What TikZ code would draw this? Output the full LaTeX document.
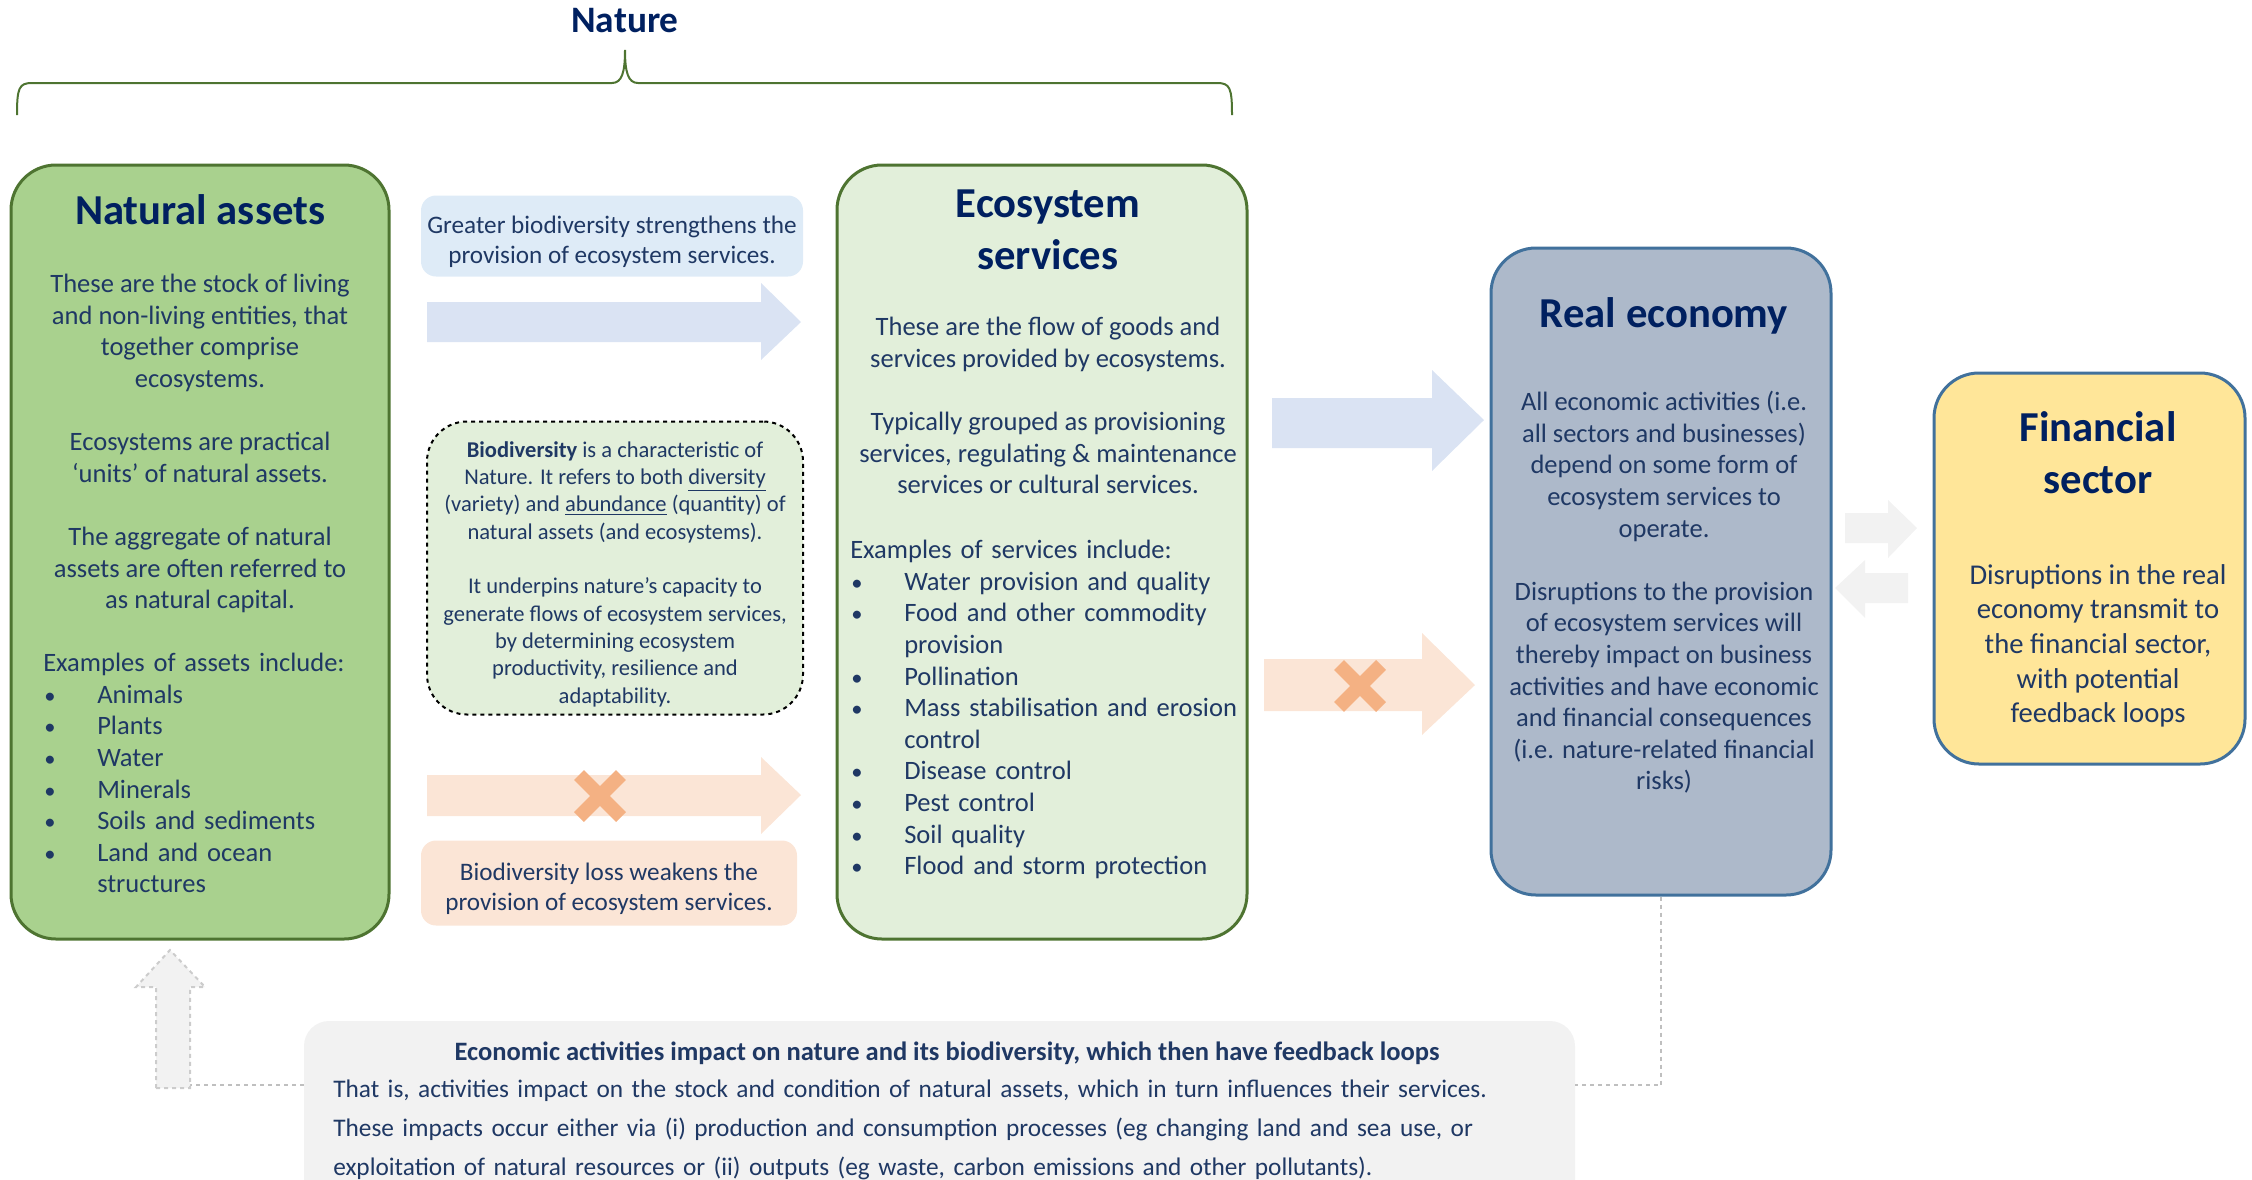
\documentclass[tikz,border=0pt]{standalone}
\usepackage{fontspec}
\setmainfont{Carlito}
\usepackage{tikz}

\newlength{\unitpx}
\setlength{\unitpx}{0.75pt}

\definecolor{navy}{HTML}{002060}
\definecolor{inknavy}{HTML}{1F3864}
\definecolor{leafgreen}{HTML}{A9D18E}
\definecolor{palegreen}{HTML}{E2EFDA}
\definecolor{darkgreen}{HTML}{4E7431}
\definecolor{skyblue}{HTML}{DEEBF7}
\definecolor{arrowblue}{HTML}{DAE3F3}
\definecolor{peach}{HTML}{FBE5D6}
\definecolor{crossorange}{HTML}{F4B183}
\definecolor{slate}{HTML}{ADB9CA}
\definecolor{steel}{HTML}{41719C}
\definecolor{butter}{HTML}{FFE699}
\definecolor{mist}{HTML}{F2F2F2}
\definecolor{dashgrey}{HTML}{BFBFBF}

% list entries with a bullet and a hanging indent
\newcommand{\listitem}[1]{\par\noindent\hangindent=54\unitpx\hangafter=1%
  \makebox[54\unitpx][l]{\hspace*{1\unitpx}\scalebox{0.85}{\textbullet}}#1}

\tikzset{
  bigbox/.style={rounded corners=45\unitpx, line width=3\unitpx},
  assetsbox/.style={bigbox, draw=darkgreen, fill=leafgreen},
  servicesbox/.style={bigbox, draw=darkgreen, fill=palegreen},
  economybox/.style={bigbox, draw=steel, fill=slate},
  financebox/.style={bigbox, draw=steel, fill=butter},
  heading/.style={font=\bfseries\fontsize{32}{39}\selectfont, text=navy, align=center, inner sep=0},
  bodytext/.style={font=\fontsize{19.9}{23.7}\selectfont, text=inknavy, align=center, inner sep=0},
  listtext/.style={bodytext, align=left},
  notebox/.style={rounded corners=15\unitpx, font=\fontsize{18.9}{22.5}\selectfont, text=inknavy, align=center},
  biobox/.style={draw=black, dashed, line width=2\unitpx, fill=palegreen, rounded corners=40\unitpx,
    font=\fontsize{16.9}{20.5}\selectfont, text=inknavy, align=center},
  gainarrow/.style={fill=arrowblue},
  lossarrow/.style={fill=peach},
  crossmark/.style={draw=crossorange, line width=14\unitpx},
  greyarrow/.style={fill=mist},
  loopline/.style={draw=dashgrey, line width=2\unitpx, dashed},
  bracket/.style={draw=darkgreen, line width=2\unitpx},
}

\begin{document}
\begin{tikzpicture}[x=0.75pt, y=-0.75pt]
  \useasboundingbox (0,0) rectangle (2252,1179);
  \clip (0,0) rectangle (2252,1179);

  % nature brace
  \node[heading, font=\bfseries\fontsize{28}{34}\selectfont] (naturelabel) at (625,21) {Nature};
  \draw[bracket] (17,115) .. controls (17,88) and (19,83) .. (32,83) -- (612,83)
    .. controls (622,83) and (625,72) .. (625,50) .. controls (625,72) and (628,83) .. (638,83)
    -- (1217,83) .. controls (1230,83) and (1232,88) .. (1232,115);

  % natural assets
  \node[assetsbox, minimum width=378\unitpx, minimum height=774\unitpx] (assets) at (200,552) {};
  \node[heading] (assetstitle) at (200,210) {Natural assets};
  \node[bodytext, anchor=north] (assetstext) at (200,274)
    {These are the stock of living\\and non-living entities, that\\together comprise\\ecosystems.\\[23.7pt]
     Ecosystems are practical\\‘units’ of natural assets.\\[23.7pt]
     The aggregate of natural\\assets are often referred to\\as natural capital.};
  \node[listtext, anchor=north west, text width=340\unitpx] (assetslist) at (43,653)
    {Examples of assets include:
     \listitem{Animals}\listitem{Plants}\listitem{Water}\listitem{Minerals}
     \listitem{Soils and sediments}\listitem{Land and ocean\newline structures}\par};

  % middle column
  \node[notebox, fill=skyblue, minimum width=382\unitpx, minimum height=81\unitpx] (gainlabel) at (612,236)
    {\rule{0pt}{30\unitpx}Greater biodiversity strengthens the\\provision of ecosystem services.};
  \fill[gainarrow] (427,302) -- (761,302) -- (761,283) -- (801,322) -- (761,360) -- (761,342) -- (427,342) -- cycle;

  \node[biobox, minimum width=376\unitpx, minimum height=293\unitpx] (biobox) at (615,568)
    {\rule{0pt}{28\unitpx}\textbf{Biodiversity} is a characteristic of\\Nature. It refers to both \underline{diversity}\\
     (variety) and \underline{abundance} (quantity) of\\natural assets (and ecosystems).\\[20.5pt]
     It underpins nature’s capacity to\\generate flows of ecosystem services,\\by determining ecosystem\\
     productivity, resilience and\\adaptability.};

  \fill[lossarrow] (427,775) -- (761,775) -- (761,757) -- (801,795) -- (761,834) -- (761,816) -- (427,816) -- cycle;
  \draw[crossmark] (579,775) -- (621,817) (579,817) -- (621,775);
  \node[notebox, fill=peach, minimum width=376\unitpx, minimum height=85\unitpx] (losslabel) at (609,883)
    {\rule{0pt}{30\unitpx}Biodiversity loss weakens the\\provision of ecosystem services.};

  % ecosystem services
  \node[servicesbox, minimum width=410\unitpx, minimum height=774\unitpx] (services) at (1042,552) {};
  \node[heading, font=\bfseries\fontsize{32}{39}\selectfont] (servicestitle) at (1048,230) {Ecosystem\\services};
  \node[bodytext, anchor=north] (servicestext) at (1048,317)
    {These are the flow of goods and\\services provided by ecosystems.\\[23.7pt]
     Typically grouped as provisioning\\services, regulating \& maintenance\\services or cultural services.};
  \node[listtext, anchor=north west, text width=390\unitpx] (serviceslist) at (850,540)
    {Examples of services include:
     \listitem{Water provision and quality}\listitem{Food and other commodity\newline provision}
     \listitem{Pollination}\listitem{Mass stabilisation and erosion\newline control}
     \listitem{Disease control}\listitem{Pest control}\listitem{Soil quality}
     \listitem{Flood and storm protection}\par};

  % arrows into the real economy
  \fill[gainarrow] (1272,398) -- (1432,398) -- (1432,370) -- (1484,420) -- (1432,471) -- (1432,448) -- (1272,448) -- cycle;
  \fill[lossarrow] (1264,659) -- (1422,659) -- (1422,633) -- (1475,685) -- (1422,735) -- (1422,711) -- (1264,711) -- cycle;
  \draw[crossmark] (1339,665) -- (1381,707) (1339,707) -- (1381,665);

  % real economy
  \node[economybox, minimum width=340\unitpx, minimum height=647\unitpx] (economy) at (1661,571.5) {};
  \node[heading] (economytitle) at (1664,316) {Real economy};
  \node[bodytext, anchor=north] (economytext) at (1664,391)
    {All economic activities (i.e.\\all sectors and businesses)\\depend on some form of\\ecosystem services to\\operate.\\[23.7pt]
     Disruptions to the provision\\of ecosystem services will\\thereby impact on business\\activities and have economic\\
     and financial consequences\\(i.e. nature-related financial\\risks)};

  % financial sector
  \fill[greyarrow] (1845,513) -- (1888,513) -- (1888,500) -- (1917,528) -- (1888,558) -- (1888,543) -- (1845,543) -- cycle;
  \fill[greyarrow] (1908,573) -- (1865,573) -- (1865,560) -- (1835,588) -- (1865,618) -- (1865,603) -- (1908,603) -- cycle;
  \node[financebox, minimum width=311\unitpx, minimum height=391\unitpx] (finance) at (2089.5,568.5) {};
  \node[heading] (financetitle) at (2098,453) {Financial\\sector};
  \node[bodytext, font=\fontsize{21.5}{26}\selectfont, anchor=north] (financetext) at (2098,564)
    {Disruptions in the real\\economy transmit to\\the financial sector,\\with potential\\feedback loops};

  % feedback to nature
  \node[fill=mist, rounded corners=25\unitpx, minimum width=1271\unitpx, minimum height=220\unitpx] (impacts) at (939.5,1131) {};
  \node[bodytext, font=\bfseries\fontsize{19.9}{23}\selectfont] (impactstitle) at (947,1053)
    {Economic activities impact on nature and its biodiversity, which then have feedback loops};
  \node[listtext, font=\fontsize{19}{29}\selectfont, anchor=north west, text width=1240\unitpx] (impactstext) at (333,1080)
    {That is, activities impact on the stock and condition of natural assets, which in turn influences their services.\\
     These impacts occur either via (i) production and consumption processes (eg changing land and sea use, or\\
     exploitation of natural resources or (ii) outputs (eg waste, carbon emissions and other pollutants).};

  \coordinate (loopy) at (0,1085);
  \coordinate (uptail) at (190,1085);
  \draw[loopline] (economy.south) -- (economy.south |- loopy) -- (impacts.east |- loopy);
  \draw[loopline] (impacts.west |- loopy) -- (uptail);
  \draw[loopline, draw=dashgrey!80, fill=mist] (156,1088) -- (156,987) -- (136,987) -- (170,950) -- (205,987)
    -- (190,987) -- (190,1088) -- cycle;

\end{tikzpicture}
\end{document}
